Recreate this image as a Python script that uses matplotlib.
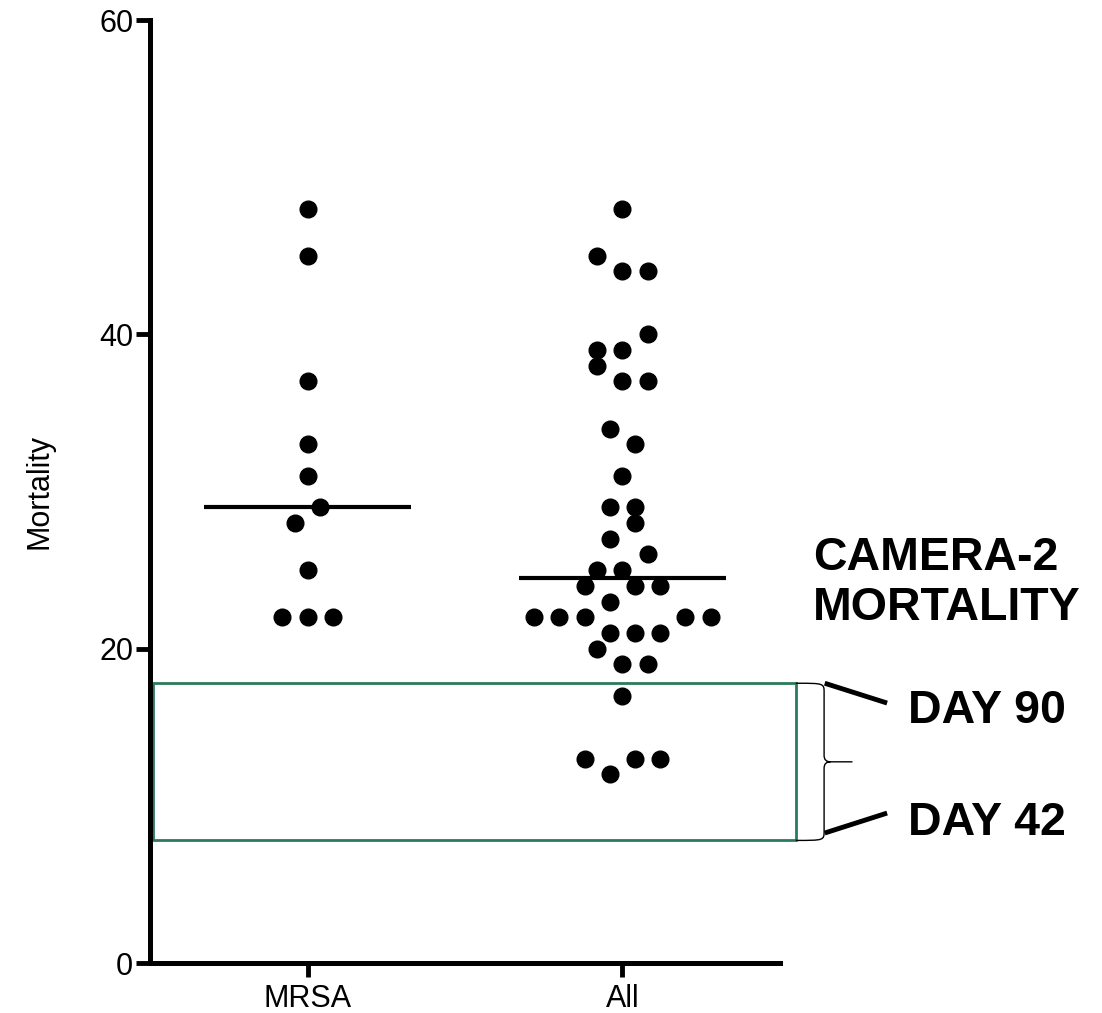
import matplotlib
matplotlib.use("Agg")
import matplotlib.pyplot as plt
from matplotlib.path import Path
from matplotlib.patches import PathPatch, Rectangle
import numpy as np

plt.rcParams['font.family'] = ['Liberation Sans', 'DejaVu Sans']

# ---- data ----
categories = ["MRSA", "All"]
mrsa_values = [48, 45, 37, 33, 31, 29, 28, 25, 22, 22, 22]
all_values = [48, 45, 44, 44, 40, 39, 39, 38, 37, 37, 34, 33, 31, 29, 29, 28, 27, 26,
              25, 25, 24, 24, 24, 23, 22, 22, 22, 22, 22, 21, 21, 21, 20, 19, 19, 17,
              13, 13, 13, 12]
day90_mortality = 17.8
day42_mortality = 7.8
y_ticks = [0, 20, 40, 60]

# ---- layout (horizontal scatter slots, in dot-width units) ----
mrsa_slots = [0, 0, 0, 0, 0, 0.5, -0.5, 0, -1, 0, 1]
all_slots = [0, -1, 0, 1, 1, -1, 0, -1, 0, 1, -0.5, 0.5, 0, -0.5, 0.5, 0.5, -0.5, 1,
             -1, 0, -1.5, 0.5, 1.5, -0.5, -3.5, -2.5, -1.5, 2.5, 3.5, -0.5, 0.5, 1.5, -1,
             0, 1, 0, -1.5, 0.5, 1.5, -0.5]
slot_w = 0.08

fig = plt.figure(figsize=(11.02, 10.13), dpi=100)
ax = fig.add_axes([150/1102, 1-963/1013, 630/1102, 943/1013])

for i, (vals, slots) in enumerate([(mrsa_values, mrsa_slots), (all_values, all_slots)]):
    xpos = i + 1 + np.array(slots) * slot_w
    ax.plot(xpos, vals, 'o', color='black', ms=12, mec='black', zorder=3, clip_on=False)
    med = np.median(vals)
    ax.plot([i + 1 - 0.33, i + 1 + 0.33], [med, med], color='black', lw=3, zorder=4,
            solid_capstyle='butt')

ax.set_xlim(0.5, 2.5)
ax.set_ylim(0, 60)
ax.set_xticks([1, 2])
ax.set_xticklabels(categories)
ax.set_yticks(y_ticks)
ax.set_ylabel("Mortality", fontsize=22, labelpad=32)
for s in ['top', 'right']:
    ax.spines[s].set_visible(False)
for s in ['left', 'bottom']:
    ax.spines[s].set_linewidth(3.6)
ax.tick_params(axis='both', width=3.5, length=10, labelsize=22)
ax.tick_params(axis='y', pad=2)
ax.tick_params(axis='x', pad=5)

# green rectangle for CAMERA-2 mortality range
green = '#2a7a5c'
rect_x0, rect_x1 = 0.51, 2.55
ax.add_patch(Rectangle((rect_x0, day42_mortality), rect_x1 - rect_x0,
                       day90_mortality - day42_mortality, fill=False,
                       edgecolor=green, lw=2, clip_on=False, zorder=2))

# curly brace
xb, xt = 2.64, 2.73
ymid = (day90_mortality + day42_mortality) / 2
c = 0.6
codes = [Path.MOVETO, Path.CURVE4, Path.CURVE4, Path.CURVE4,
         Path.LINETO, Path.CURVE3, Path.CURVE3, Path.LINETO,
         Path.MOVETO, Path.CURVE3, Path.CURVE3, Path.LINETO,
         Path.CURVE4, Path.CURVE4, Path.CURVE4]
verts = [(rect_x1, day90_mortality), (xb, day90_mortality), (xb, day90_mortality), (xb, day90_mortality - c),
         (xb, ymid + 0.4), (xb, ymid), (xb + 0.02, ymid), (xt, ymid),
         (xb + 0.02, ymid), (xb, ymid), (xb, ymid - 0.4), (xb, day42_mortality + c),
         (xb, day42_mortality), (xb, day42_mortality), (rect_x1, day42_mortality)]
ax.add_patch(PathPatch(Path(verts, codes), fill=False, edgecolor='black', lw=1,
                       clip_on=False, zorder=2))

# pointer lines
ax.plot([2.642, 2.84], [day90_mortality, 16.54], color='black', lw=3.5, clip_on=False,
        solid_capstyle='butt')
ax.plot([2.642, 2.84], [8.27, 9.54], color='black', lw=3.5, clip_on=False,
        solid_capstyle='butt')

bold = dict(fontsize=33.5, fontweight='bold', va='baseline', ha='left', clip_on=False)
ax.text(2.905, 15.27, "DAY 90", **bold)
ax.text(2.905, 8.14, "DAY 42", **bold)
ax.text(2.605, 25.0, "CAMERA-2", **bold)
ax.text(2.605, 21.8, "MORTALITY", **bold)

fig.savefig("out.png", dpi=100)
